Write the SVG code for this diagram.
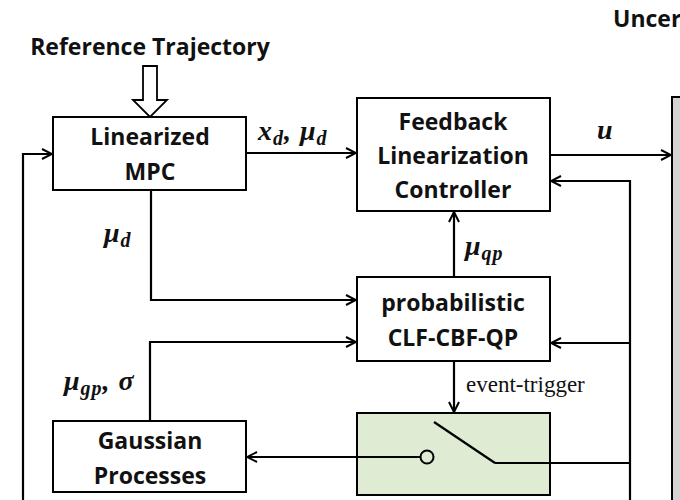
<svg xmlns="http://www.w3.org/2000/svg" width="680" height="500" viewBox="0 0 680 500">
<defs>
<marker id="ah" viewBox="0 0 12 12" refX="11" refY="6" markerWidth="12" markerHeight="12" markerUnits="userSpaceOnUse" orient="auto">
<path d="M1,1 L11,6 L1,11" fill="none" stroke="#000" stroke-width="2"/>
</marker>
<style>
.box{fill:#fff;stroke:#000;stroke-width:2}
.lbl{font-family:"Open Sans","Liberation Sans",sans-serif;font-weight:bold;font-size:23px;text-anchor:middle;fill:#111}
.math{font-family:"Liberation Serif","DejaVu Serif",serif;font-weight:bold;font-style:italic;font-size:28px;fill:#111;letter-spacing:1px}
.sub{font-size:20px}
.ln{fill:none;stroke:#000;stroke-width:2.2}
</style>
</defs>
<rect width="680" height="500" fill="#fff"/>
<text x="150" y="55" class="lbl">Reference Trajectory</text>
<text x="613" y="27" class="lbl" style="text-anchor:start">Uncer</text>
<path d="M143,66 H157 V100 H167 L150,117 L133,100 H143 Z" fill="#fff" stroke="#000" stroke-width="1.8"/>
<g id="gray"><rect x="672" y="97" width="20" height="420" fill="#d3d3d3" stroke="#000" stroke-width="2"/></g>
<g id="mpc"><rect class="box" x="53" y="117" width="193" height="73"/>
<text class="lbl" x="150" y="145">Linearized</text><text class="lbl" x="150" y="180">MPC</text></g>
<g id="fbl"><rect class="box" x="357" y="98" width="193" height="113"/>
<text class="lbl" x="453" y="130">Feedback</text><text class="lbl" x="453" y="164">Linearization</text><text class="lbl" x="453" y="198">Controller</text></g>
<g id="qp"><rect class="box" x="357" y="277" width="193" height="84"/>
<text class="lbl" x="453" y="311">probabilistic</text><text class="lbl" x="453" y="346">CLF-CBF-QP</text></g>
<g id="sw"><rect x="357" y="413" width="193" height="82" fill="#dfebd3" stroke="#000" stroke-width="2"/>
<circle cx="427" cy="457" r="6.5" fill="none" stroke="#000" stroke-width="2"/>
<line x1="434" y1="422" x2="495" y2="463" stroke="#000" stroke-width="2.2"/></g>
<g id="gp"><rect class="box" x="53" y="421" width="193" height="71"/>
<text class="lbl" x="150" y="449">Gaussian</text><text class="lbl" x="150" y="484">Processes</text></g>
<g id="connectors">
<path class="ln" d="M246,153 H356" marker-end="url(#ah)"/>
<path class="ln" d="M550,155 H671" marker-end="url(#ah)"/>
<path class="ln" d="M23,500 V154 H52" marker-end="url(#ah)"/>
<path class="ln" d="M151,190 V300 H356" marker-end="url(#ah)"/>
<path class="ln" d="M150,421 V342 H356" marker-end="url(#ah)"/>
<path class="ln" d="M454,277 V212" marker-end="url(#ah)"/>
<path class="ln" d="M454,361 V412" marker-end="url(#ah)"/>
<path class="ln" d="M630,500 V181 H551" marker-end="url(#ah)"/>
<path class="ln" d="M630,343 H551" marker-end="url(#ah)"/>
<path class="ln" d="M495,463 H630"/>
<path class="ln" d="M420,457 H247" marker-end="url(#ah)"/>
</g>
<text class="math" x="258" y="140">x<tspan class="sub" dy="5">d</tspan><tspan dy="-5">, μ</tspan><tspan class="sub" dy="5">d</tspan></text>
<text class="math" x="597" y="139">u</text>
<text class="math" x="104" y="242">μ<tspan class="sub" dy="5">d</tspan></text>
<text class="math" x="465" y="255">μ<tspan class="sub" dy="5">qp</tspan></text>
<text class="math" x="64" y="390">μ<tspan class="sub" dy="5">gp</tspan><tspan dy="-5">, σ</tspan></text>
<text x="466" y="392" style="font-family:'Liberation Serif','DejaVu Serif',serif;font-size:23px;fill:#111">event-trigger</text>
</svg>
